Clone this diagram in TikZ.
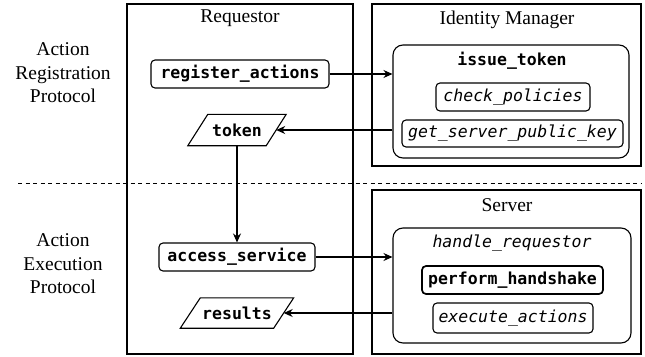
\documentclass[tikz,border=0pt]{standalone}
\usepackage{fontspec}
\setmainfont{Liberation Serif}
\setmonofont{DejaVu Sans Mono}
\usetikzlibrary{arrows.meta}

\begin{document}
\begin{tikzpicture}[x=1pt,y=-1pt,
  lbl/.style={font=\fontsize{19.5}{23.5}\selectfont, inner sep=0pt, align=center},
  frame/.style={draw, line width=1.2pt, inner sep=0pt},
  grp/.style={draw, rounded corners=10pt, line width=1.1pt, inner sep=0pt},
  fn/.style={draw, rounded corners=4pt, line width=1.1pt, inner sep=0pt,
    font=\fontsize{16.5}{20}\selectfont\ttfamily\bfseries, minimum height=28pt},
  sub/.style={fn, font=\fontsize{16.5}{20}\selectfont\ttfamily\itshape},
  data/.style={inner sep=0pt, font=\fontsize{16.5}{20}\selectfont\ttfamily\bfseries},
  dataedge/.style={draw, line width=1.1pt, line join=miter},
  flow/.style={-{Stealth[length=9pt,width=8pt]}, line width=1.1pt},
  sep/.style={dashed, dash pattern=on 4pt off 3.5pt, line width=0.9pt}]
\useasboundingbox (0,0) rectangle (645,356);

% participant frames
\node[frame, minimum width=226pt, minimum height=350pt] (req) at (240,179) {};
\node[frame, minimum width=269pt, minimum height=162pt] (idm) at (506.5,85) {};
\node[frame, minimum width=269pt, minimum height=164pt] (srv) at (506.5,272) {};

\node[lbl] (reqT) at (240,18) {Requestor};
\node[lbl] (idmT) at (507,20) {Identity Manager};
\node[lbl] (srvT) at (507,205) {Server};

% protocol phases
\node[lbl] (regP) at (63,73) {Action\\Registration\\Protocol};
\node[lbl] (exeP) at (63,264) {Action\\Execution\\Protocol};
\coordinate (sepL) at (18,183);
\coordinate (sepR) at (641,183);
\draw[sep] (sepL) -- (sepR);

% identity manager internals
\node[grp, minimum width=236pt, minimum height=113pt] (issue) at (511,101.5) {};
\node[fn, draw=none] (issueT) at (512,61) {issue\_token};
\node[sub, minimum width=154pt] (check) at (513,97) {check\_policies};
\node[sub, minimum width=221pt, minimum height=27pt] (getkey) at (512.5,133.5) {get\_server\_public\_key};

% server internals
\node[grp, minimum width=238pt, minimum height=115pt] (handle) at (512,285.5) {};
\node[sub, draw=none] (handleT) at (512,243) {handle\_requestor};
\node[fn, line width=1.7pt, minimum width=181pt] (hshake) at (512.5,280) {perform\_handshake};
\node[sub, minimum width=160pt, minimum height=30pt] (exec) at (513,318) {execute\_actions};

% requestor internals
\node[fn, minimum width=178pt] (regact) at (240,74) {register\_actions};
\node[fn, minimum width=156pt] (access) at (237,257) {access\_service};

% data items: parallelograms around the text nodes
\node[data, minimum width=78pt, minimum height=31pt] (token) at (237,130) {token};
\draw[dataedge] ([xshift=-10pt]token.south west) -- ([xshift=10pt]token.north west)
  -- ([xshift=10pt]token.north east) -- ([xshift=-10pt]token.south east) -- cycle;
\node[data, minimum width=93pt, minimum height=30pt] (results) at (237,313) {results};
\draw[dataedge] ([xshift=-10pt]results.south west) -- ([xshift=10pt]results.north west)
  -- ([xshift=10pt]results.north east) -- ([xshift=-10pt]results.south east) -- cycle;

% message flow
\draw[flow] (regact.east) -- (regact.east -| issue.west);
\draw[flow] (token.east -| issue.west) -- (token.east);
\draw[flow] (token.south) -- (access.north);
\draw[flow] (access.east) -- (access.east -| handle.west);
\draw[flow] (results.east -| handle.west) -- (results.east);
\end{tikzpicture}
\end{document}
